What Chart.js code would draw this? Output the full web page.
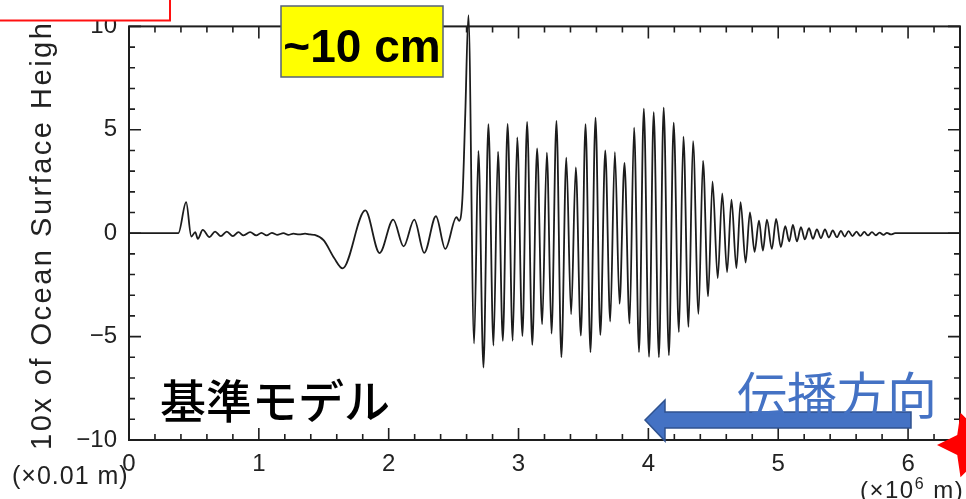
<!DOCTYPE html>
<html lang="ja">
<head>
<meta charset="utf-8">
<title>基準モデル</title>
<script src="https://cdn.jsdelivr.net/npm/chart.js@4.4.1/dist/chart.umd.min.js"></script>
<style>
  html, body { margin: 0; padding: 0; background: #fff; }
  #wrap { width: 966px; height: 499px; position: relative; }
</style>
</head>
<body>
<div id="wrap"><canvas id="waveChart"></canvas></div>
<script>
// distance (x10^6 m) and surface height (x0.01 m) at the turning points of the profile

// precursor, long dip and the leading crest
const leadDist = [0, 0.38, 0.44, 0.48, 0.51, 0.53, 0.568, 0.62, 0.663, 0.707, 0.753, 0.8, 0.843, 0.882, 0.933,
  0.98, 1.02, 1.06, 1.1, 1.14, 1.19, 1.227, 1.266, 1.31, 1.356, 1.394, 1.43, 1.5, 1.58, 1.645,
  1.82, 1.93, 2.035, 2.115, 2.197, 2.274, 2.364, 2.436, 2.522, 2.542, 2.568, 2.59, 2.614];
const leadHeight = [0, 0, 1.5, -0.16, 0.05, -0.27, 0.16, -0.19, 0.08, -0.14, 0.08, -0.14, 0.05, -0.11, 0.05,
  -0.11, 0.02, -0.11, 0.02, -0.08, 0.0, -0.08, -0.02, -0.06, -0.02, -0.06, -0.08, -0.35, -1.2, -1.7,
  1.1, -0.96, 0.66, -0.64, 0.66, -0.95, 0.82, -0.76, 0.78, 0.6, 1.7, 5.8, 10.55];

// main wave train
const trainDist = [2.658, 2.691, 2.73, 2.768, 2.807, 2.842, 2.879, 2.916, 2.955, 2.99,
  3.03, 3.066, 3.106, 3.143, 3.182, 3.218, 3.254, 3.292, 3.33, 3.368,
  3.405, 3.441, 3.48, 3.516, 3.554, 3.593, 3.63, 3.668, 3.706, 3.742,
  3.778, 3.816, 3.855, 3.89, 3.928, 3.965, 4.005, 4.041, 4.081, 4.118,
  4.158, 4.195, 4.235, 4.27, 4.309, 4.344, 4.386, 4.421, 4.46, 4.494,
  4.534, 4.569, 4.606, 4.64, 4.678, 4.71, 4.749, 4.782, 4.818, 4.852];
const trainHeight = [-5.33, 3.98, -6.5, 5.27, -5.43, 3.94, -5.2, 5.28, -5.2, 4.63,
  -4.97, 5.38, -5.4, 4.1, -4.4, 3.9, -4.86, 5.43, -6.0, 3.65,
  -3.92, 3.18, -4.95, 5.27, -5.75, 5.59, -4.92, 4.0, -4.27, 3.92,
  -3.41, 3.4, -4.37, 5.11, -5.75, 6.02, -5.98, 5.85, -6.0, 6.07,
  -5.9, 5.35, -4.78, 4.67, -4.53, 4.45, -3.9, 3.5, -3.05, 2.5,
  -2.18, 1.93, -1.88, 1.62, -1.69, 1.5, -1.42, 1.0, -0.9, 0.61];

// dispersive tail
const tailDist = [4.882, 4.913, 4.951, 4.984, 5.02, 5.054, 5.085, 5.113, 5.144, 5.175,
  5.205, 5.237, 5.267, 5.298, 5.329, 5.36, 5.39, 5.42, 5.452, 5.483,
  5.511, 5.542, 5.572, 5.603, 5.632, 5.663, 5.691, 5.722, 5.753, 5.78,
  5.811, 5.837, 5.868, 5.9, 6.4];
const tailHeight = [-0.84, 0.65, -0.76, 0.69, -0.67, 0.34, -0.4, 0.4, -0.4, 0.29,
  -0.3, 0.24, -0.27, 0.18, -0.24, 0.18, -0.21, 0.13, -0.19, 0.11,
  -0.16, 0.1, -0.14, 0.08, -0.13, 0.06, -0.11, 0.05, -0.1, 0.03,
  -0.08, 0.02, -0.06, 0, 0];

// axis ticks
const xTicks = [0, 1, 2, 3, 4, 5, 6];
const yTicks = [-10, -5, 0, 5, 10];
const xMinorStep = 0.2;
const yMinorStep = 1;

const FONT = '"Liberation Sans", Arial, Helvetica, sans-serif';
const JP_FONT = '"Noto Sans CJK JP", "Noto Sans CJK SC", sans-serif';

function toPoints(xs, ys) {
  return xs.map((x, i) => ({ x: x, y: ys[i] }));
}

const profile = [].concat(
  toPoints(leadDist, leadHeight),
  toPoints(trainDist, trainHeight),
  toPoints(tailDist, tailHeight)
);

// box frame with inward ticks on all four sides
const frameTicks = {
  id: 'frameTicks',
  beforeDatasetsDraw(chart) {
    const { ctx, chartArea: a, scales: { x, y } } = chart;
    ctx.save();
    ctx.strokeStyle = '#1e1e1e';
    ctx.lineWidth = 2;
    ctx.strokeRect(a.left, a.top, a.right - a.left, a.bottom - a.top);

    ctx.lineWidth = 1.6;
    const nx = Math.round((x.max - x.min) / xMinorStep);
    for (let i = 0; i <= nx; i++) {
      const v = x.min + i * xMinorStep;
      const px = x.getPixelForValue(v);
      const len = xTicks.some(t => Math.abs(t - v) < 1e-6) ? 12 : 6;
      ctx.beginPath();
      ctx.moveTo(px, a.bottom); ctx.lineTo(px, a.bottom - len);
      ctx.moveTo(px, a.top); ctx.lineTo(px, a.top + len);
      ctx.stroke();
    }
    const ny = Math.round((y.max - y.min) / yMinorStep);
    for (let i = 0; i <= ny; i++) {
      const v = y.min + i * yMinorStep;
      const py = y.getPixelForValue(v);
      const len = yTicks.includes(v) ? 12 : 6;
      ctx.beginPath();
      ctx.moveTo(a.left, py); ctx.lineTo(a.left + len, py);
      ctx.moveTo(a.right, py); ctx.lineTo(a.right - len, py);
      ctx.stroke();
    }
    ctx.restore();
  }
};

// axis captions, labels and markers laid over the plot
const overlays = {
  id: 'overlays',
  afterDraw(chart) {
    const ctx = chart.ctx;
    ctx.save();

    // vertical axis caption
    ctx.save();
    ctx.translate(51, 450);
    ctx.rotate(-Math.PI / 2);
    ctx.font = '29px ' + FONT;
    ctx.letterSpacing = '2.5px';
    ctx.fillStyle = '#222';
    ctx.textAlign = 'left';
    ctx.textBaseline = 'alphabetic';
    ctx.fillText('10x of Ocean Surface Height', 0, 0);
    ctx.restore();

    // units
    ctx.fillStyle = '#222';
    ctx.textBaseline = 'alphabetic';
    ctx.font = '25px ' + FONT;
    ctx.letterSpacing = '1px';
    ctx.fillText('(\u00d70.01 m)', 12, 484);

    ctx.font = '24px ' + FONT;
    ctx.letterSpacing = '1.5px';
    let ux = 860;
    ctx.fillText('(\u00d710', ux, 498);
    ux += ctx.measureText('(\u00d710').width;
    ctx.font = '16px ' + FONT;
    ctx.fillText('6', ux, 489);
    ux += ctx.measureText('6').width;
    ctx.font = '24px ' + FONT;
    ctx.fillText(' m)', ux, 498);
    ctx.letterSpacing = '0px';

    // caption box in the corner
    ctx.fillStyle = '#fff';
    ctx.fillRect(-4, -4, 174, 24.5);
    ctx.strokeStyle = '#ff1010';
    ctx.lineWidth = 2;
    ctx.strokeRect(-4, -4, 174, 24.5);

    // amplitude tag
    ctx.fillStyle = '#ffff00';
    ctx.fillRect(281, 6, 162, 71);
    ctx.strokeStyle = '#56627a';
    ctx.lineWidth = 1.5;
    ctx.strokeRect(281, 6, 162, 71);
    ctx.fillStyle = '#000';
    ctx.font = 'bold 46px ' + FONT;
    ctx.textAlign = 'center';
    ctx.fillText('~10 cm', 362, 62);

    // model name
    ctx.textAlign = 'left';
    ctx.font = '500 46px ' + JP_FONT;
    ctx.fillText('基準モデル', 160, 418);

    // propagation arrow
    ctx.beginPath();
    ctx.moveTo(645, 420);
    ctx.lineTo(665, 400);
    ctx.lineTo(665, 412);
    ctx.lineTo(911, 412);
    ctx.lineTo(911, 428);
    ctx.lineTo(665, 428);
    ctx.lineTo(665, 441);
    ctx.closePath();
    ctx.fillStyle = '#4472c4';
    ctx.fill();
    ctx.strokeStyle = '#2f528f';
    ctx.lineWidth = 1.5;
    ctx.stroke();

    ctx.fillStyle = '#4472c4';
    ctx.font = '50px ' + JP_FONT;
    ctx.fillText('伝播方向', 737, 414);

    // source marker
    const cx = 971, cy = 445, ro = 34, ri = 17;
    ctx.beginPath();
    for (let i = 0; i < 10; i++) {
      const r = i % 2 === 0 ? ro : ri;
      const ang = Math.PI + i * Math.PI / 5;
      const px = cx + r * Math.cos(ang), py = cy + r * Math.sin(ang);
      if (i === 0) ctx.moveTo(px, py); else ctx.lineTo(px, py);
    }
    ctx.closePath();
    ctx.fillStyle = '#ff0000';
    ctx.fill();

    ctx.restore();
  }
};

new Chart(document.getElementById('waveChart'), {
  type: 'line',
  data: {
    datasets: [{
      data: profile,
      borderColor: '#1c1c1c',
      borderWidth: 1.8,
      pointRadius: 0,
      cubicInterpolationMode: 'monotone',
      fill: false,
      clip: false
    }]
  },
  options: {
    responsive: true,
    maintainAspectRatio: false,
    animation: false,
    layout: { padding: { top: 24, right: 6, left: 0, bottom: 0 } },
    plugins: { legend: { display: false }, tooltip: { enabled: false } },
    scales: {
      x: {
        type: 'linear',
        min: 0,
        max: 6.4,
        grid: { display: false, drawTicks: false },
        border: { display: false },
        afterBuildTicks: s => { s.ticks = xTicks.map(v => ({ value: v })); },
        afterFit: s => { s.height = 59; },
        ticks: {
          autoSkip: false,
          maxRotation: 0,
          padding: 10,
          color: '#222',
          font: { family: FONT, size: 24 }
        }
      },
      y: {
        min: -10,
        max: 10,
        grid: { display: false, drawTicks: false },
        border: { display: false },
        afterBuildTicks: s => { s.ticks = yTicks.map(v => ({ value: v })); },
        afterFit: s => { s.width = 129; },
        ticks: {
          padding: 12,
          color: '#222',
          font: { family: FONT, size: 24 },
          callback: v => (v < 0 ? '\u2212' + Math.abs(v) : String(v))
        }
      }
    }
  },
  plugins: [frameTicks, overlays]
});
</script>
</body>
</html>
